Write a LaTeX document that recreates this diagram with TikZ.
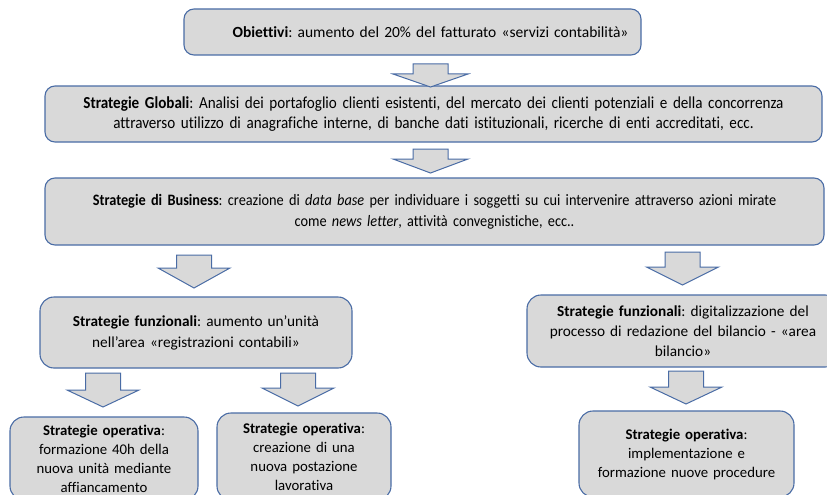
\documentclass[tikz,border=0pt]{standalone}
\usepackage{fontspec}
\setmainfont{Carlito}[Ligatures=NoCommon]
\newfontfamily\condfont{Carlito}[FakeStretch=0.9,Ligatures=NoCommon]
\usetikzlibrary{calc}
\definecolor{boxfill}{RGB}{217,217,217}
\definecolor{boxline}{RGB}{74,108,165}
\begin{document}
\frenchspacing
\begin{tikzpicture}[x=1pt,y=-1pt,
  box/.style={draw=boxline, fill=boxfill, line width=1.1pt, rounded corners=10pt,
    align=center, inner sep=0pt, text=black},
  lowbox/.style={box, rounded corners=14pt},
  barrowstyle/.style={draw=boxline, fill=boxfill, line width=1pt, line join=miter},
  pics/barrow/.style n args={3}{code={
    \draw[barrowstyle] (-17.5,0) -- (17.5,0) -- (17.5,#1) -- (#3,#1) -- (0,#2)
      -- (-#3,#1) -- (-17.5,#1) -- cycle;}}
]
\useasboundingbox (0,0) rectangle (827,495);

% top level
\node[box, minimum width=457pt, minimum height=46pt, text width=445pt,
  font=\fontsize{15.5}{19}\selectfont] (obj) at (412.5,32)
  {\hspace*{36pt}\textbf{Obiettivi}: aumento del 20\% del fatturato «servizi contabilità»};

\node[box, minimum width=777pt, minimum height=56pt, text width=770pt,
  font=\condfont\fontsize{16.8}{20}\selectfont] (glob) at (433.5,114)
  {\textbf{Strategie Globali}: Analisi dei portafoglio clienti esistenti, del mercato dei clienti potenziali e della concorrenza\\
   attraverso utilizzo di anagrafiche interne, di banche dati istituzionali, ricerche di enti accreditati, ecc.};

\node[box, minimum width=779pt, minimum height=67pt, text width=770pt,
  font=\condfont\fontsize{15.9}{21}\selectfont] (bus) at (434.5,211.5)
  {\textbf{Strategie di Business}: creazione di \textit{data base} per individuare i soggetti su cui intervenire attraverso azioni mirate\\
   come \textit{news letter}, attività convegnistiche, ecc..};

% functional
\node[lowbox, minimum width=312pt, minimum height=71pt, text width=304pt,
  font=\fontsize{15.3}{21}\selectfont] (funL) at (196,332.5)
  {\textbf{Strategie funzionali}: aumento un’unità\\ nell’area «registrazioni contabili»};

\node[lowbox, minimum width=312pt, minimum height=72pt, text width=304pt,
  font=\fontsize{15.3}{20}\selectfont] (funR) at (683,331)
  {\textbf{Strategie funzionali}: digitalizzazione del\\ processo di redazione del bilancio - «area\\ bilancio»};

% operative
\node[lowbox, minimum width=188pt, minimum height=83pt, text width=182pt,
  font=\fontsize{14.8}{19}\selectfont] (opA) at (104,458.5)
  {\textbf{Strategie operativa}:\\ formazione 40h della\\ nuova unità mediante\\ affiancamento};

\node[lowbox, minimum width=174pt, minimum height=87pt, text width=168pt,
  font=\fontsize{14.8}{19}\selectfont] (opB) at (304,456.5)
  {\textbf{Strategie operativa}:\\ creazione di una\\ nuova postazione\\ lavorativa};

\node[lowbox, minimum width=215pt, minimum height=86pt, text width=209pt,
  font=\fontsize{14.8}{19}\selectfont] (opC) at (686.5,454)
  {\textbf{Strategie operativa}:\\ implementazione e\\ formazione nuove procedure};

% block arrows
\pic at (430.5,64) {barrow={10}{23}{37.5}};
\pic at (430.5,149) {barrow={10}{24}{37.5}};
\pic at (194,255) {barrow={13}{33}{36}};
\pic at (682.5,252) {barrow={15}{33}{36}};
\pic at (103,373) {barrow={17}{34}{36}};
\pic at (298,373) {barrow={15}{33}{36}};
\pic at (686,371) {barrow={16}{33}{36}};
\end{tikzpicture}
\end{document}
